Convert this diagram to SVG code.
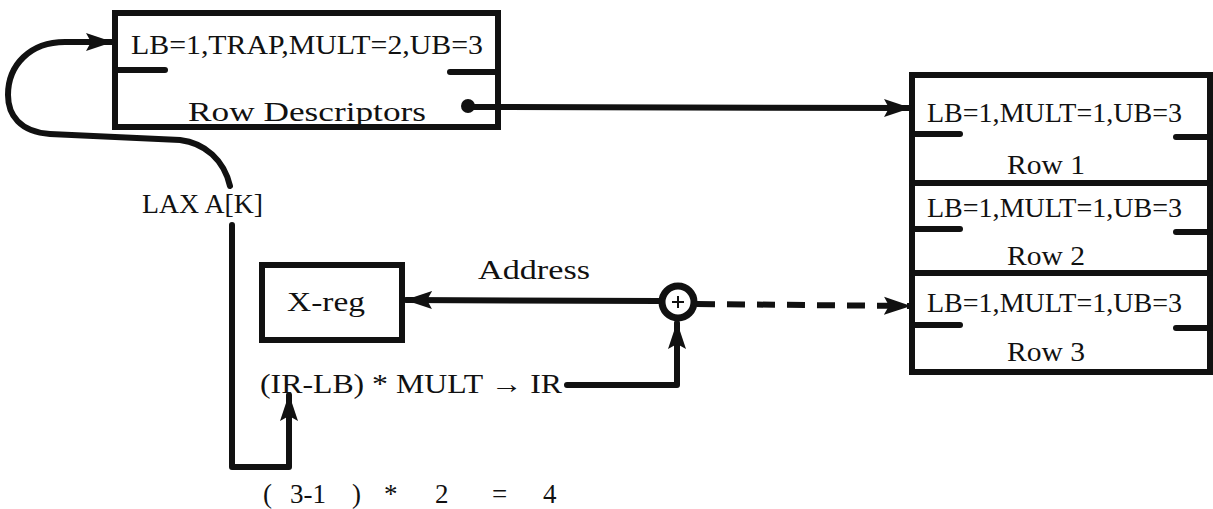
<svg xmlns="http://www.w3.org/2000/svg" width="1213" height="509" viewBox="0 0 1213 509">
<style>
.t{font-family:"Liberation Serif","DejaVu Serif",serif;font-size:27px;fill:#111}
.box{fill:#fff;stroke:#111;stroke-width:6;stroke-linejoin:miter}
.ln{fill:none;stroke:#111;stroke-width:6;stroke-linecap:round;stroke-linejoin:round}
.tick{stroke:#111;stroke-width:6;stroke-linecap:round}
</style>
<defs>
<marker id="ah" markerUnits="userSpaceOnUse" markerWidth="27" markerHeight="20" refX="26" refY="10" orient="auto">
<path d="M0,1 L27,10 L0,19 L5,10 z" fill="#111"/>
</marker>
</defs>
<rect width="1213" height="509" fill="#fff"/>

<g id="row-descriptors">
<rect class="box" x="115" y="13" width="383" height="114"/>
<text class="t" x="131" y="54" textLength="352" lengthAdjust="spacingAndGlyphs">LB=1,TRAP,MULT=2,UB=3</text>
<line class="tick" x1="117" y1="70" x2="165" y2="70"/>
<line class="tick" x1="450" y1="72" x2="496" y2="72"/>
<text class="t" x="188" y="121" textLength="238" lengthAdjust="spacingAndGlyphs">Row Descriptors</text>
<circle cx="468" cy="106" r="7" fill="#111"/>
</g>

<g id="rows">
<rect class="box" x="912" y="75" width="298" height="297"/>
<line class="ln" x1="912" y1="183" x2="1210" y2="183"/>
<line class="ln" x1="912" y1="273" x2="1210" y2="273"/>
<text class="t" x="927" y="122" textLength="255" lengthAdjust="spacingAndGlyphs">LB=1,MULT=1,UB=3</text>
<line class="tick" x1="914" y1="134" x2="960" y2="134"/>
<line class="tick" x1="1176" y1="137" x2="1210" y2="137"/>
<text class="t" x="1007" y="174" textLength="78" lengthAdjust="spacingAndGlyphs">Row 1</text>
<text class="t" x="927" y="217" textLength="255" lengthAdjust="spacingAndGlyphs">LB=1,MULT=1,UB=3</text>
<line class="tick" x1="914" y1="229" x2="960" y2="229"/>
<line class="tick" x1="1176" y1="232" x2="1210" y2="232"/>
<text class="t" x="1007" y="265" textLength="78" lengthAdjust="spacingAndGlyphs">Row 2</text>
<text class="t" x="927" y="312" textLength="255" lengthAdjust="spacingAndGlyphs">LB=1,MULT=1,UB=3</text>
<line class="tick" x1="914" y1="325" x2="960" y2="325"/>
<line class="tick" x1="1176" y1="328" x2="1210" y2="328"/>
<text class="t" x="1007" y="361" textLength="78" lengthAdjust="spacingAndGlyphs">Row 3</text>
</g>

<g id="xreg">
<rect class="box" x="262" y="265" width="140" height="75"/>
<text class="t" x="287" y="311" textLength="78" lengthAdjust="spacingAndGlyphs">X-reg</text>
</g>

<g id="adder">
<circle cx="678" cy="302" r="16" fill="#fff" stroke="#111" stroke-width="7"/>
<line x1="672" y1="302" x2="684" y2="302" stroke="#111" stroke-width="2"/>
<line x1="678" y1="296" x2="678" y2="308" stroke="#111" stroke-width="2"/>
</g>

<g id="labels">
<text class="t" x="142" y="213" textLength="121" lengthAdjust="spacingAndGlyphs">LAX A[K]</text>
<text class="t" x="478" y="279" textLength="112" lengthAdjust="spacingAndGlyphs">Address</text>
<text class="t" x="260" y="393" textLength="302" lengthAdjust="spacingAndGlyphs">(IR-LB) * MULT → IR</text>
<text class="t" y="503"><tspan x="263">(</tspan><tspan x="290">3-1</tspan><tspan x="352">)</tspan><tspan x="384">*</tspan><tspan x="435">2</tspan><tspan x="492">=</tspan><tspan x="543">4</tspan></text>
</g>

<g id="connectors">
<path class="ln" d="M230,186 C224,160 205,143 180,140 L50,134 C20,132 8,115 8,95 C8,65 30,42 65,42 L112,42" marker-end="url(#ah)"/>
<line class="ln" x1="474" y1="107" x2="910" y2="108" marker-end="url(#ah)"/>
<path class="ln" d="M232,225 L232,467 L289,467 L289,395" marker-end="url(#ah)"/>
<line class="ln" x1="659" y1="301" x2="406" y2="300" marker-end="url(#ah)"/>
<path class="ln" d="M567,385 L677,385 L677,323" marker-end="url(#ah)"/>
<line x1="697" y1="304" x2="910" y2="306" stroke="#111" stroke-width="6" stroke-dasharray="18,12" marker-end="url(#ah)"/>
</g>
</svg>
